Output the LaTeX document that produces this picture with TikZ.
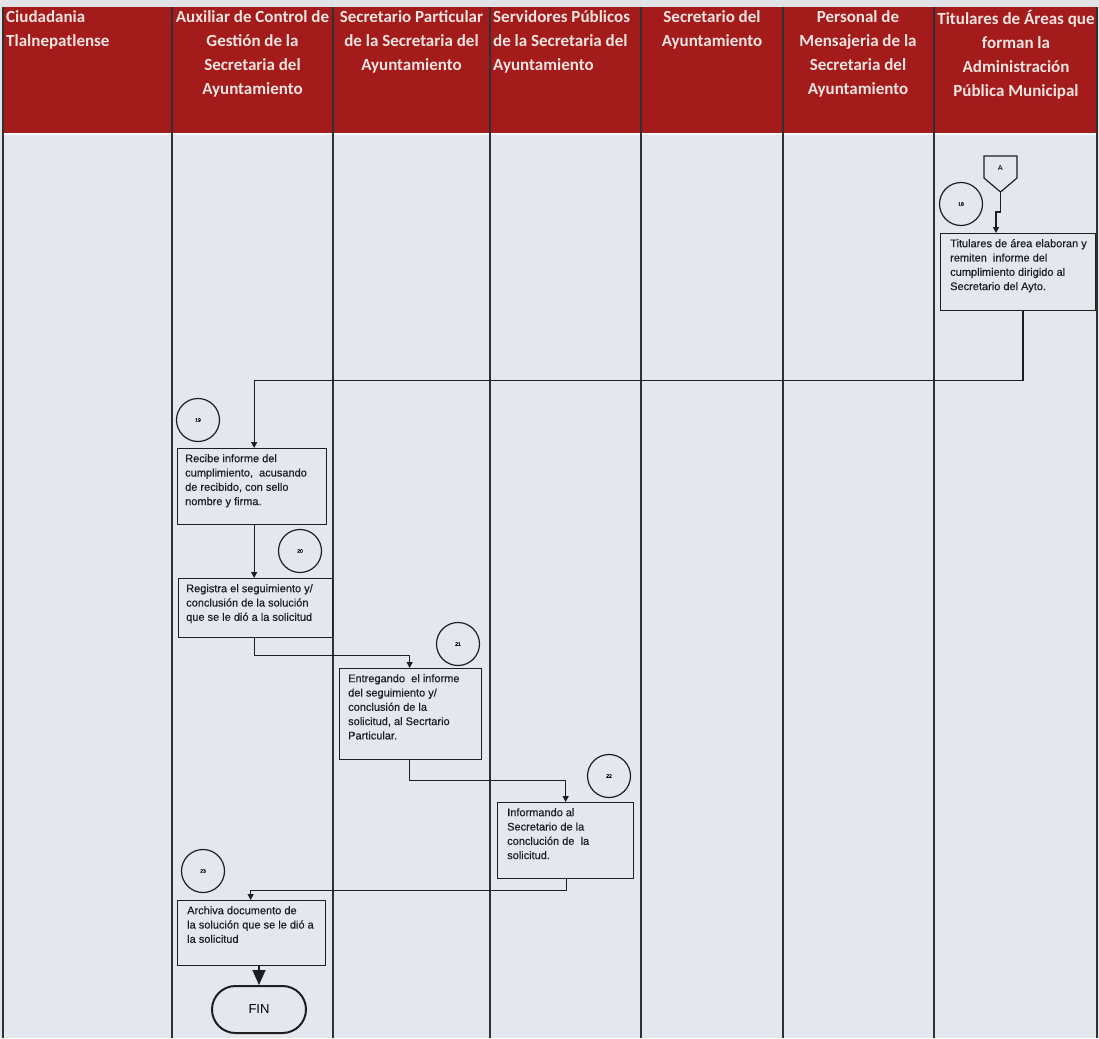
\documentclass[tikz,border=0pt]{standalone}
\usepackage{fontspec}
\setmainfont{Liberation Sans}
\newfontfamily\headfont{Carlito}
\newfontfamily\stepfont[FakeBold=0.4]{Liberation Sans}
\usetikzlibrary{arrows.meta,calc,shapes.misc}

\definecolor{pagebg}{RGB}{226,227,231}
\definecolor{bodybg}{RGB}{229,231,238}
\definecolor{hdrred}{RGB}{163,27,27}
\definecolor{hdrtext}{RGB}{246,228,224}
\definecolor{lanegray}{RGB}{48,48,54}
\definecolor{ink}{RGB}{30,30,34}

\begin{document}
\begin{tikzpicture}[x=1pt,y=-1pt,
  lane/.style={draw=lanegray,line width=1.3pt},
  hdr/.style={font=\headfont\bfseries\fontsize{17}{24}\selectfont,text=hdrtext,inner sep=0pt,anchor=north,align=center},
  stepbox/.style={draw=ink,line width=1.3pt,fill=bodybg,anchor=north west,inner sep=0pt},
  steptext/.style={font=\stepfont\fontsize{11}{14.3}\selectfont,anchor=north west,inner sep=0pt,align=left,text=ink},
  num/.style={circle,draw=ink,line width=1.2pt,minimum size=43pt,inner sep=0pt,font=\stepfont\fontsize{5}{5}\selectfont},
  flow/.style={draw=ink,line width=1.2pt,-{Triangle[length=6pt,width=6pt]}},
  endflow/.style={draw=ink,line width=1.4pt,-{Triangle[length=15pt,width=13pt]}},
  terminal/.style={rounded rectangle,draw=ink,line width=2pt,minimum width=94pt,minimum height=47pt,inner sep=0pt,fill=bodybg,font=\fontsize{13}{13}\selectfont},
]
\useasboundingbox (0,0) rectangle (1099,1038);

% page, header band and lane body
\fill[pagebg] (0,0) rectangle (1099,1038);
\fill[bodybg] (3,133) rectangle (1097,1038);
\fill[hdrred] (3,7) rectangle (1097,133);
\draw[white,line width=1.5pt] (3,134) -- (1097,134);

% lane separators
\foreach \x in {3,172,333,490,641,783,934,1097}
  \draw[lane] (\x,7) -- (\x,1038);

% lane titles
\node[hdr,anchor=north west,align=left] (h1) at (6,10) {\rule{0pt}{12pt}Ciudadania\\Tlalnepatlense};
\node[hdr] (h2) at (252.5,10) {\rule{0pt}{12pt}Auxiliar de Control de\\Gestión de la\\Secretaria del\\Ayuntamiento};
\node[hdr] (h3) at (411.5,10) {\rule{0pt}{12pt}Secretario Particular\\de la Secretaria del\\Ayuntamiento};
\node[hdr,anchor=north west,align=left] (h4) at (493,10) {\rule{0pt}{12pt}Servidores Públicos\\de la Secretaria del\\Ayuntamiento};
\node[hdr] (h5) at (712,10) {\rule{0pt}{12pt}Secretario del\\Ayuntamiento};
\node[hdr] (h6) at (858,10) {\rule{0pt}{12pt}Personal de\\Mensajeria de la\\Secretaria del\\Ayuntamiento};
\node[hdr] (h7) at (1016,10) {\rule{0pt}{12pt}Titulares de Áreas que\\forman la\\Administración\\Pública Municipal};

% off-page connector A
\draw[ink,line width=1.2pt,fill=bodybg] (984,156) -- (1017,156) -- (1017,178) -- (1000.5,192) -- (984,178) -- cycle;
\node[font=\bfseries\fontsize{7}{7}\selectfont,text=ink] (A) at (1000.5,168) {A};
\coordinate (Atip) at (1000.5,192);

% process steps
\node[stepbox,minimum width=155pt,minimum height=77pt] (b18) at (940,233) {};
\node[steptext] (t18) at ($(b18.north west)+(10,5)$) {\rule{0pt}{9pt}Titulares de área elaboran y\\remiten \ informe del\\cumplimiento dirigido al\\Secretario del Ayto.};

\node[stepbox,minimum width=149pt,minimum height=76pt] (b19) at (177,448) {};
\node[steptext] (t19) at ($(b19.north west)+(8,5)$) {\rule{0pt}{9pt}Recibe informe del\\cumplimiento, \ acusando\\de recibido, con sello\\nombre y firma.};

\node[stepbox,minimum width=154pt,minimum height=59pt] (b20) at (178,578) {};
\node[steptext] (t20) at ($(b20.north west)+(8,5)$) {\rule{0pt}{9pt}Registra el seguimiento y/\\conclusión de la solución\\que se le dió a la solicitud};

\node[stepbox,minimum width=142pt,minimum height=91pt] (b21) at (339,668) {};
\node[steptext] (t21) at ($(b21.north west)+(9,5)$) {\rule{0pt}{9pt}Entregando \ el informe\\del seguimiento y/\\conclusión de la\\solicitud, al Secrtario\\Particular.};

\node[stepbox,minimum width=136pt,minimum height=76pt] (b22) at (497,802) {};
\node[steptext] (t22) at ($(b22.north west)+(10,5)$) {\rule{0pt}{9pt}Informando al\\Secretario de la\\conclución de \ la\\solicitud.};

\node[stepbox,minimum width=148pt,minimum height=65pt] (b23) at (177,900) {};
\node[steptext] (t23) at ($(b23.north west)+(10,5)$) {\rule{0pt}{9pt}Archiva documento de\\la solución que se le dió a\\la solicitud};

\node[terminal] (fin) at (259,1009.5) {FIN};

% step numbers
\node[num] (c18) at (961,204) {18};
\node[num] (c19) at (198,420) {19};
\node[num] (c20) at (300,551) {20};
\node[num] (c21) at (458,644) {21};
\node[num] (c22) at (609,776) {22};
\node[num] (c23) at (203,871) {23};

% flow
\draw[flow] (Atip) -- ++(0,20) -- ++(-4.5,0) -- ($(b18.north west)+(56,0)$);
\draw[flow] ($(b18.south west)+(83,0)$) -- ++(0,69) -| ([xshift=2pt]b19.north);
\draw[flow] ([xshift=2pt]b19.south) -- ([xshift=2pt]b19.south |- b20.north);
\draw[flow] ([xshift=-1pt]b20.south) -- ++(0,17) -| ([xshift=-1pt]b21.north);
\draw[flow] ([xshift=-1pt]b21.south) -- ++(0,20) -| (b22.north);
\draw[flow] ([xshift=1pt]b22.south) -- ++(0,11) -| ([xshift=-1pt]b23.north);
\draw[endflow] (fin.north |- b23.south) -- (fin.north);
\end{tikzpicture}
\end{document}
